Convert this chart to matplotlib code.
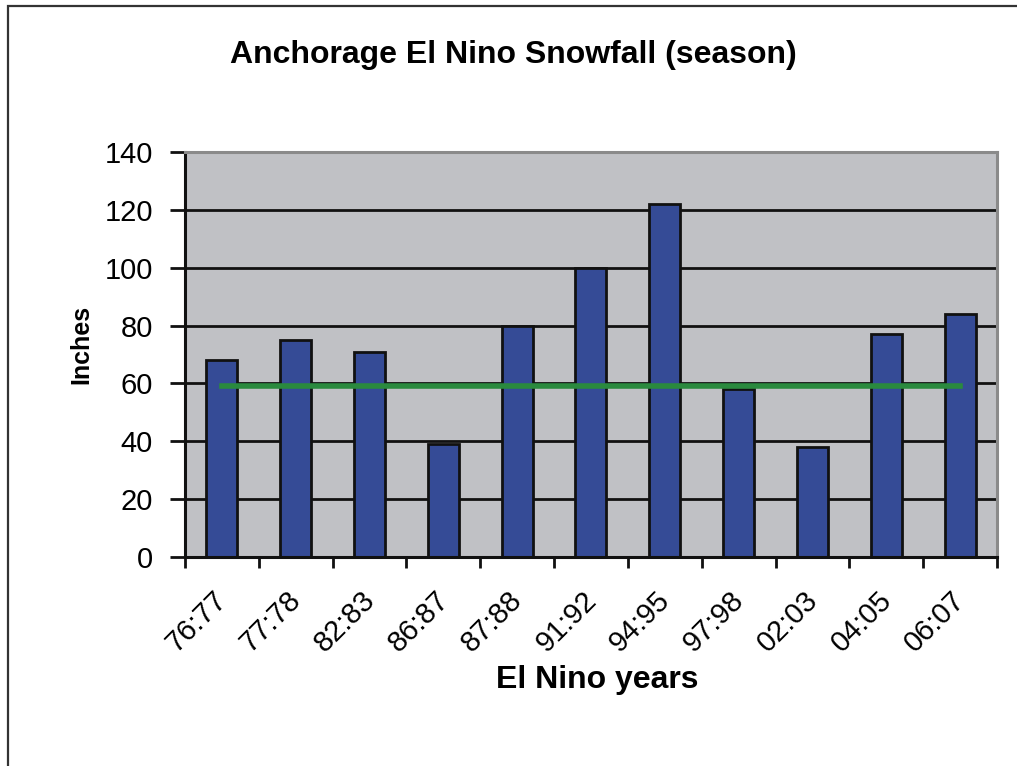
import matplotlib.pyplot as plt
import matplotlib.transforms as mtransforms
from matplotlib.patches import Rectangle
import numpy as np

plt.rcParams['font.family'] = ['Liberation Sans', 'DejaVu Sans']

# El Nino seasons and snowfall totals (inches)
seasons = ['76:77', '77:78', '82:83', '86:87', '87:88', '91:92',
           '94:95', '97:98', '02:03', '04:05', '06:07']
snowfall = [68, 75, 71, 39, 80, 100, 122, 58, 38, 77, 84]
# long-term seasonal average drawn as a flat line
average = [59, 59, 59, 59, 59, 59, 59, 59, 59, 59, 59]
y_ticks = [0, 20, 40, 60, 80, 100, 120, 140]

fig = plt.figure(figsize=(10.17, 7.66), dpi=100)
ax = fig.add_axes([0.1819, 0.2728, 0.7984, 0.5288])
ax.set_facecolor('#c0c1c5')

x = np.arange(len(seasons))

# horizontal grid lines, black like the original
for v in y_ticks[1:-1]:
    ax.axhline(v, color='#111111', linewidth=2.0, zorder=1)

ax.bar(x, snowfall, width=0.42, color='#354b96', edgecolor='#111111',
       linewidth=2.0, zorder=2)
ax.plot(x, average, color='#2a8a3e', linewidth=4.0, zorder=3)

ax.set_xlim(-0.5, len(seasons) - 0.5)
ax.set_ylim(0, 140)
ax.set_yticks(y_ticks)
ax.tick_params(axis='y', labelsize=21, length=11, width=2.0, pad=12,
               color='#111111')

# labels at bar centres, tick marks at category boundaries
ax.set_xticks(x)
ax.set_xticklabels(seasons, rotation=45, ha='right', va='top',
                   rotation_mode='anchor', fontsize=21)
ax.tick_params(axis='x', which='major', length=0, pad=21)
shift = mtransforms.ScaledTranslation(-9 / 100, 0, fig.dpi_scale_trans)
for lab in ax.get_xticklabels():
    lab.set_transform(lab.get_transform() + shift)
ax.set_xticks(np.arange(len(seasons) + 1) - 0.5, minor=True)
ax.tick_params(axis='x', which='minor', length=8, width=2.0, color='#111111')

for side in ['left', 'bottom']:
    ax.spines[side].set_color('#111111')
    ax.spines[side].set_linewidth(2.2)
for side in ['top', 'right']:
    ax.spines[side].set_color('#8a8a8a')
    ax.spines[side].set_linewidth(2.2)

fig.text(0.505, 0.928, 'Anchorage El Nino Snowfall (season)', fontsize=23,
         fontweight='bold', ha='center', va='center')
fig.text(0.587, 0.112, 'El Nino years', fontsize=23, fontweight='bold',
         ha='center', va='center')
fig.text(0.080, 0.55, 'Inches', fontsize=18, fontweight='bold',
         rotation=90, ha='center', va='center')

# outer chart frame (right and bottom edges lie outside the image)
fig.add_artist(Rectangle((0.008, -0.05), 1.2, 1.042,
                         transform=fig.transFigure, fill=False,
                         edgecolor='#333333', linewidth=1.6))

fig.savefig('out.png', dpi=100)
